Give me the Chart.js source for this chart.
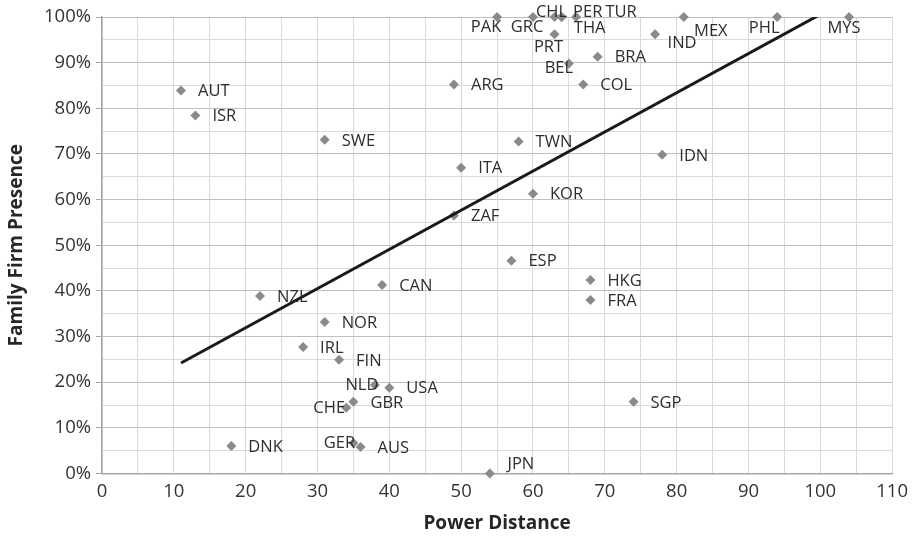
<!DOCTYPE html>
<html>
<head>
<meta charset="utf-8">
<script src="https://cdn.jsdelivr.net/npm/chart.js@4/dist/chart.umd.min.js"></script>
<style>
  html, body { margin: 0; padding: 0; background: #ffffff; }
  #c { display: block; }
</style>
</head>
<body>
<canvas id="c" width="915" height="536"></canvas>
<script>
// ---- Data ----
const countries = ['AUT','ISR','SWE','NZL','NOR','IRL','FIN','NLD','USA','GBR','CHE','DNK','GER','AUS','JPN',
  'CAN','ESP','TWN','ITA','KOR','ZAF','HKG','FRA','SGP','IDN','ARG','COL','BEL','BRA','PRT','IND',
  'PAK','GRC','CHL','PER','TUR','THA','MEX','PHL','MYS'];
const powerDistance = [11,13,31,22,31,28,33,38,40,35,34,18,35,36,54,
  39,57,58,50,60,49,68,68,74,78,49,67,65,69,63,77,
  55,60,63,64,66,64,81,94,104];
const familyFirmPresence = [83.9,78.4,73.1,38.9,33.2,27.7,24.9,19.4,18.8,15.7,14.4,6.0,6.7,5.8,0,
  41.3,46.6,72.7,67.0,61.3,56.5,42.4,38.0,15.7,69.8,85.2,85.2,89.8,91.3,96.2,96.2,
  100,100,100,100,100,100,100,100,100];
// Linear trend line end points
const trendX = [11, 104];
const trendY = [24.2, 104.0];

const xTitle = 'Power Distance';
const yTitle = 'Family Firm Presence';

// ---- Label placement (style) ----
const defaultPlacement = { dx: 17, dy: 1, align: 'left' };
const labelPlacement = {
  PAK: { dx: -11, dy: 10, align: 'center' },
  GRC: { dx: -6, dy: 10, align: 'center' },
  CHL: { dx: -3, dy: -5, align: 'center' },
  PER: { dx: 26, dy: -5, align: 'center' },
  TUR: { dx: 45, dy: -5, align: 'center' },
  THA: { dx: 28, dy: 11, align: 'center' },
  MEX: { dx: 27, dy: 14, align: 'center' },
  PHL: { dx: -13, dy: 11, align: 'center' },
  MYS: { dx: -5, dy: 11, align: 'center' },
  IND: { dx: 27, dy: 9, align: 'center' },
  PRT: { dx: -6, dy: 13, align: 'center' },
  BEL: { dx: -10, dy: 5, align: 'center' },
  NLD: { dx: -13, dy: 0, align: 'center' },
  CHE: { dx: -17, dy: 1, align: 'center' },
  GER: { dx: -14, dy: 0, align: 'center' },
  JPN: { dx: 31, dy: -9, align: 'center' }
};

const pointData = powerDistance.map((x, i) => ({ x: x, y: familyFirmPresence[i] }));
const trendData = trendX.map((x, i) => ({ x: x, y: trendY[i] }));

const labelPlugin = {
  id: 'pointLabels',
  afterDatasetsDraw(chart) {
    const meta = chart.getDatasetMeta(0);
    const ctx = chart.ctx;
    ctx.save();
    ctx.font = '16.5px "Open Sans"';
    ctx.fillStyle = '#2e2e2e';
    ctx.textBaseline = 'middle';
    meta.data.forEach((pt, i) => {
      const name = countries[i];
      const p = labelPlacement[name] || defaultPlacement;
      ctx.textAlign = p.align;
      ctx.fillText(name, pt.x + p.dx, pt.y + p.dy);
    });
    ctx.restore();
  }
};

const tickFont = { family: 'Open Sans', size: 18.5 };
const titleFont = { family: 'Open Sans', size: 19, weight: 'bold' };

new Chart(document.getElementById('c'), {
  type: 'scatter',
  data: {
    datasets: [
      {
        label: 'Countries',
        data: pointData,
        pointStyle: 'rectRot',
        pointRadius: 5,
        pointHoverRadius: 5,
        backgroundColor: '#8a8a8a',
        borderColor: '#8a8a8a',
        borderWidth: 0,
        clip: false,
        order: 1
      },
      {
        label: 'Trend',
        data: trendData,
        showLine: true,
        pointRadius: 0,
        borderColor: '#1a1a1a',
        borderWidth: 3,
        fill: false,
        clip: 0,
        order: 0
      }
    ]
  },
  options: {
    responsive: false,
    animation: false,
    events: [],
    layout: { padding: { left: 0, right: 21, top: 17, bottom: 0 } },
    plugins: {
      legend: { display: false },
      tooltip: { enabled: false }
    },
    scales: {
      x: {
        type: 'linear',
        min: 0,
        max: 110,
        afterFit(scale) { scale.height = 62.5; },
        ticks: {
          stepSize: 5,
          autoSkip: false,
          maxRotation: 0,
          padding: 7,
          color: '#333333',
          font: tickFont,
          callback: (v) => (v % 10 === 0 ? String(v) : '')
        },
        grid: {
          color: '#d9d9d9',
          lineWidth: 1,
          drawTicks: false
        },
        border: { display: true, color: '#a6a6a6', width: 1.5 },
        title: {
          display: true,
          text: xTitle,
          color: '#262626',
          font: titleFont,
          padding: { top: 0, bottom: 1 }
        }
      },
      y: {
        type: 'linear',
        min: 0,
        max: 100,
        afterFit(scale) { scale.width = 102; },
        ticks: {
          stepSize: 5,
          autoSkip: false,
          padding: 5,
          color: '#333333',
          font: tickFont,
          callback: (v) => (v % 10 === 0 ? v + '%' : '')
        },
        grid: {
          color: (ctx) => (ctx.tick && ctx.tick.value % 10 === 0 ? '#c0c0c0' : '#dadada'),
          tickColor: (ctx) => (ctx.tick && ctx.tick.value % 10 === 0 ? '#a6a6a6' : 'rgba(0,0,0,0)'),
          tickLength: 6,
          lineWidth: 1
        },
        border: { display: true, color: '#a6a6a6', width: 1.5 },
        title: {
          display: true,
          text: yTitle,
          color: '#262626',
          font: titleFont,
          padding: { top: 5, bottom: 0 }
        }
      }
    }
  },
  plugins: [labelPlugin]
});
</script>
</body>
</html>
